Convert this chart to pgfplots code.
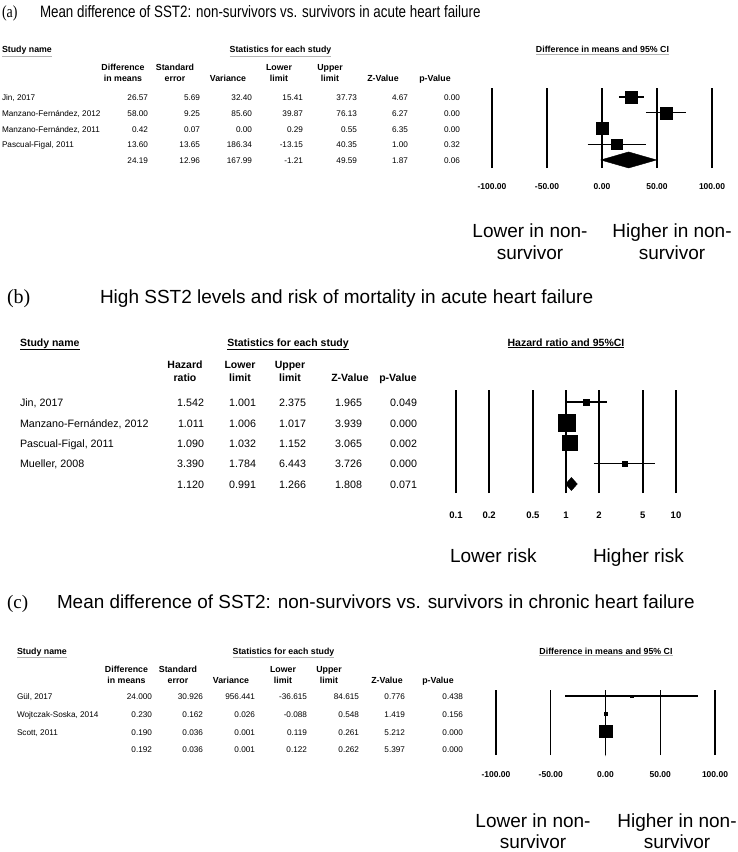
\documentclass[border=0pt]{standalone}
\usepackage{fontspec}
\setmainfont{Liberation Sans}
\newfontfamily\serif{Liberation Serif}
\usepackage{graphicx}
\usepackage{pgfplots}
\pgfplotsset{compat=1.18}

\newcommand\fs[1]{\fontsize{#1}{#1}\selectfont}
\newcommand\fa{\fs{8.2}}
\newcommand\fah{\bfseries\fs{8.8}}
\newcommand\fb{\fs{10.7}}
\newcommand\fbh{\bfseries\fs{10.5}}
\newcommand\fbig{\fs{19}}

\newcommand\tx[4]{\node[anchor=#1,inner sep=0pt,outer sep=0pt] at (#2pt,-#3pt) {#4};}
\newcommand\ul[5]{\node[anchor=#1,inner sep=0pt,outer sep=0pt] (u) at (#2pt,-#3pt) {#4};
  \draw[#5,line width=0.6pt] ([yshift=-1.5pt]u.south west) -- ([yshift=-1.5pt]u.south east);}

\newcommand\rowa[9]{\tx{base west}{2}{#1}{\fa #2}\tx{base east}{148}{#1}{\fa #3}\tx{base east}{200}{#1}{\fa #4}\tx{base east}{252}{#1}{\fa #5}\tx{base east}{303}{#1}{\fa #6}\tx{base east}{357}{#1}{\fa #7}\tx{base east}{408}{#1}{\fa #8}\tx{base east}{460}{#1}{\fa #9}}
\newcommand\rowc[9]{\tx{base west}{17}{#1}{\fa #2}\tx{base east}{152}{#1}{\fa #3}\tx{base east}{203}{#1}{\fa #4}\tx{base east}{255}{#1}{\fa #5}\tx{base east}{307}{#1}{\fa #6}\tx{base east}{359}{#1}{\fa #7}\tx{base east}{405}{#1}{\fa #8}\tx{base east}{463}{#1}{\fa #9}}
\newcommand\rowb[7]{\tx{base west}{20}{#1}{\fb #2}\tx{base east}{204}{#1}{\fb #3}\tx{base east}{256}{#1}{\fb #4}\tx{base east}{306}{#1}{\fb #5}\tx{base east}{362}{#1}{\fb #6}\tx{base east}{417}{#1}{\fb #7}}

\begin{document}
\begin{tikzpicture}
\path[use as bounding box] (0,0) rectangle (738pt,-852pt);

% ================= Panel (a) =================
\tx{base west}{2}{17.5}{\scalebox{0.82}[1]{\serif\fs{17}(a)}}
\tx{base west}{40}{17.5}{\scalebox{0.81}[1]{\fs{16.5}Mean difference of SST2: non-survivors vs. survivors in acute heart failure}}
\ul{base west}{2}{52.5}{\fah Study name}{gray!60}
\ul{base}{280.5}{52.5}{\fah Statistics for each study}{gray!60}
\ul{base}{602.5}{52.5}{\fah Difference in means and 95\% CI}{gray!60}
\tx{base}{123}{70}{\fah Difference}\tx{base}{123}{81}{\fah in means}
\tx{base}{175}{70}{\fah Standard}\tx{base}{175}{81}{\fah error}
\tx{base}{228}{81}{\fah Variance}
\tx{base}{279}{70}{\fah Lower}\tx{base}{279}{81}{\fah limit}
\tx{base}{330}{70}{\fah Upper}\tx{base}{330}{81}{\fah limit}
\tx{base}{383}{81}{\fah Z-Value}
\tx{base}{435}{81}{\fah p-Value}
\rowa{100}{Jin, 2017}{26.57}{5.69}{32.40}{15.41}{37.73}{4.67}{0.00}
\rowa{116}{Manzano-Fernández, 2012}{58.00}{9.25}{85.60}{39.87}{76.13}{6.27}{0.00}
\rowa{132}{Manzano-Fernández, 2011}{0.42}{0.07}{0.00}{0.29}{0.55}{6.35}{0.00}
\rowa{147}{Pascual-Figal, 2011}{13.60}{13.65}{186.34}{-13.15}{40.35}{1.00}{0.32}
\rowa{163}{}{24.19}{12.96}{167.99}{-1.21}{49.59}{1.87}{0.06}

\begin{axis}[at={(492pt,-168pt)},anchor=south west,scale only axis,width=220pt,height=80pt,
  xmin=-100,xmax=100,ymin=-5.51,ymax=-0.43,
  axis line style={draw=none},tick style={draw=none},ytick=\empty,
  xtick={-100,-50,0,50,100},xticklabels={-100.00,-50.00,0.00,50.00,100.00},
  xmajorgrids,major grid style={black,line width=1.2pt},
  xticklabel style={anchor=base,yshift=-21pt,font={\bfseries\fs{8.5}}},
  clip=false]
\addplot[black,line width=1.4pt] coordinates {(15.41,-1) (37.73,-1)};
\addplot[only marks,mark=square*,mark size=6pt,black] coordinates {(26.57,-1)};
\addplot[black,line width=1.4pt] coordinates {(39.87,-2) (76.13,-2)};
\addplot[only marks,mark=square*,mark size=6pt,black] coordinates {(58.00,-2)};
\addplot[black,line width=1.4pt] coordinates {(0.29,-3) (0.55,-3)};
\addplot[only marks,mark=square*,mark size=6.2pt,black] coordinates {(0.42,-3)};
\addplot[black,line width=1.4pt] coordinates {(-13.15,-4) (40.35,-4)};
\addplot[only marks,mark=square*,mark size=5.3pt,black] coordinates {(13.60,-4)};
\addplot[black,fill=black] coordinates {(-1.21,-5) (24.19,-4.49) (49.59,-5) (24.19,-5.51) (-1.21,-5)};
\end{axis}
\tx{base}{530}{237}{\fbig Lower in non-}\tx{base}{530}{259}{\fbig survivor}
\tx{base}{672}{237}{\fbig Higher in non-}\tx{base}{672}{259}{\fbig survivor}

% ================= Panel (b) =================
\tx{base west}{7}{303}{\serif\fs{20}(b)}
\tx{base west}{100}{303}{\fs{19}High SST2 levels and risk of mortality in acute heart failure}
\ul{base west}{20}{346}{\fbh Study name}{black}
\ul{base}{288}{346}{\fbh Statistics for each study}{black}
\ul{base}{566}{346}{\fbh Hazard ratio and 95\%CI}{black}
\tx{base}{185}{368}{\fbh Hazard}\tx{base}{185}{381}{\fbh ratio}
\tx{base}{240}{368}{\fbh Lower}\tx{base}{240}{381}{\fbh limit}
\tx{base}{290}{368}{\fbh Upper}\tx{base}{290}{381}{\fbh limit}
\tx{base}{350}{381}{\fbh Z-Value}
\tx{base}{398}{381}{\fbh p-Value}
\rowb{406}{Jin, 2017}{1.542}{1.001}{2.375}{1.965}{0.049}
\rowb{427}{Manzano-Fernández, 2012}{1.011}{1.006}{1.017}{3.939}{0.000}
\rowb{447}{Pascual-Figal, 2011}{1.090}{1.032}{1.152}{3.065}{0.002}
\rowb{467}{Mueller, 2008}{3.390}{1.784}{6.443}{3.726}{0.000}
\rowb{488}{}{1.120}{0.991}{1.266}{1.808}{0.071}

\begin{axis}[at={(456pt,-493pt)},anchor=south west,scale only axis,width=220pt,height=103pt,
  xmode=log,xmin=0.1,xmax=10,ymin=-5.439,ymax=-0.415,
  axis line style={draw=none},tick style={draw=none},ytick=\empty,
  xtick={0.1,0.2,0.5,1,2,5,10},xticklabels={0.1,0.2,0.5,1,2,5,10},
  xmajorgrids,major grid style={black,line width=1.5pt},
  xticklabel style={anchor=base,yshift=-25.5pt,font={\bfseries\fs{9.5}}},
  clip=false]
\addplot[black,line width=1.3pt] coordinates {(1.001,-1) (2.375,-1)};
\addplot[only marks,mark=square*,mark size=3pt,black] coordinates {(1.542,-1)};
\addplot[black,line width=1.3pt] coordinates {(1.006,-2) (1.017,-2)};
\addplot[only marks,mark=square*,mark size=8.2pt,black] coordinates {(1.011,-2)};
\addplot[black,line width=1.3pt] coordinates {(1.032,-3) (1.152,-3)};
\addplot[only marks,mark=square*,mark size=7.5pt,black] coordinates {(1.090,-3)};
\addplot[black,line width=1.3pt] coordinates {(1.784,-4) (6.443,-4)};
\addplot[only marks,mark=square*,mark size=2.6pt,black] coordinates {(3.390,-4)};
\addplot[black,fill=black] coordinates {(0.991,-5) (1.120,-4.68) (1.266,-5) (1.120,-5.32) (0.991,-5)};
\end{axis}
\tx{base west}{450}{562}{\fbig Lower risk}
\tx{base west}{593}{562}{\fbig Higher risk}

% ================= Panel (c) =================
\tx{base west}{7}{608}{\serif\fs{19}(c)}
\tx{base west}{57}{608}{\fs{18.9}Mean difference of SST2: non-survivors vs. survivors in chronic heart failure}
\ul{base west}{17}{654}{\fah Study name}{gray!60}
\ul{base}{283.5}{654}{\fah Statistics for each study}{gray!60}
\ul{base}{606}{654}{\fah Difference in means and 95\% CI}{gray!60}
\tx{base}{126.5}{672}{\fah Difference}\tx{base}{126.5}{683}{\fah in means}
\tx{base}{178}{672}{\fah Standard}\tx{base}{178}{683}{\fah error}
\tx{base}{231}{683}{\fah Variance}
\tx{base}{283}{672}{\fah Lower}\tx{base}{283}{683}{\fah limit}
\tx{base}{329}{672}{\fah Upper}\tx{base}{329}{683}{\fah limit}
\tx{base}{387}{683}{\fah Z-Value}
\tx{base}{438}{683}{\fah p-Value}
\rowc{699}{Gül, 2017}{24.000}{30.926}{956.441}{-36.615}{84.615}{0.776}{0.438}
\rowc{717}{Wojtczak-Soska, 2014}{0.230}{0.162}{0.026}{-0.088}{0.548}{1.419}{0.156}
\rowc{735}{Scott, 2011}{0.190}{0.036}{0.001}{0.119}{0.261}{5.212}{0.000}
\rowc{752}{}{0.192}{0.036}{0.001}{0.122}{0.262}{5.397}{0.000}

\begin{axis}[at={(496pt,-755pt)},anchor=south west,scale only axis,width=219pt,height=65pt,
  xmin=-100,xmax=100,ymin=-4.34,ymax=-0.66,
  axis line style={draw=none},tick style={draw=none},ytick=\empty,
  xtick={-100,-50,0,50,100},xticklabels={-100.00,-50.00,0.00,50.00,100.00},
  xmajorgrids,major grid style={black,line width=1.2pt},
  xticklabel style={anchor=base,yshift=-22pt,font={\bfseries\fs{8.5}}},
  clip=false]
\addplot[black,line width=1.4pt] coordinates {(-36.615,-1) (84.615,-1)};
\addplot[only marks,mark=square*,mark size=1.2pt,black] coordinates {(24.000,-1)};
\addplot[black,line width=1.4pt] coordinates {(-0.088,-2) (0.548,-2)};
\addplot[only marks,mark=square*,mark size=1.5pt,black] coordinates {(0.230,-2)};
\addplot[black,line width=1.4pt] coordinates {(0.119,-3) (0.261,-3)};
\addplot[only marks,mark=square*,mark size=6.3pt,black] coordinates {(0.190,-3)};
\addplot[black,fill=black] coordinates {(0.122,-4) (0.192,-3.6) (0.262,-4) (0.192,-4.4) (0.122,-4)};
\end{axis}
\tx{base}{533}{827}{\fbig Lower in non-}\tx{base}{533}{848}{\fbig survivor}
\tx{base}{677}{827}{\fbig Higher in non-}\tx{base}{677}{848}{\fbig survivor}
\end{tikzpicture}
\end{document}
